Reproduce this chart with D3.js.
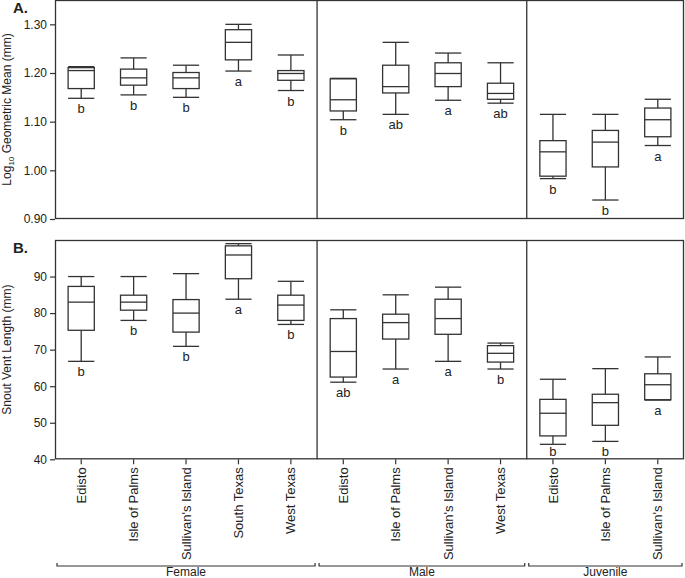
<!DOCTYPE html>
<html><head><meta charset="utf-8">
<script src="https://cdn.jsdelivr.net/npm/d3@7/dist/d3.min.js"></script>
<style>
body{margin:0;background:#fff;}
text{font-family:"Liberation Sans",Arial,sans-serif;fill:#222;}
</style></head>
<body><svg id="c" width="685" height="578"></svg>
<script>
const categories = ["Edisto","Isle of Palms","Sullivan's Island","South Texas","West Texas",
  "Edisto","Isle of Palms","Sullivan's Island","West Texas",
  "Edisto","Isle of Palms","Sullivan's Island"];
const groups = ["Female","Male","Juvenile"];
const groupSizes = [5,4,3];

// Panel A: Log10 geometric mean (mm)
const gmMin = [1.148,1.155,1.150,1.204,1.164, 1.104,1.115,1.144,1.138, 0.983,0.939,1.051];
const gmQ1  = [1.168,1.175,1.168,1.227,1.185, 1.122,1.159,1.172,1.146, 0.988,1.007,1.069];
const gmMed = [1.205,1.190,1.190,1.263,1.199, 1.145,1.172,1.199,1.158, 1.038,1.058,1.104];
const gmQ3  = [1.211,1.208,1.201,1.289,1.205, 1.188,1.216,1.221,1.179, 1.061,1.082,1.128];
const gmMax = [1.213,1.231,1.216,1.300,1.237, 1.189,1.263,1.241,1.221, 1.115,1.115,1.146];
const gmLetters = ["b","b","b","a","b", "b","ab","a","ab", "b","b","a"];
const gmTicks = [0.90,1.00,1.10,1.20,1.30];

// Panel B: Snout vent length (mm)
const svlMin = [66.8,78.0,70.9,83.8,76.9, 61.1,64.7,66.8,64.7, 44.1,44.9,56.2];
const svlQ1  = [75.3,80.8,74.8,89.4,78.0, 62.5,72.9,74.2,66.6, 46.4,49.3,56.3];
const svlMed = [83.0,83.0,80.0,95.9,82.2, 69.5,77.4,78.5,69.0, 52.6,55.5,60.4];
const svlQ3  = [87.3,84.9,83.7,98.4,84.9, 78.5,79.7,83.8,71.1, 56.4,57.8,63.4];
const svlMax = [90.0,90.0,90.8,99.0,88.7, 80.9,85.0,87.1,71.8, 61.9,64.8,68.0];
const svlLetters = ["b","b","b","a","b", "ab","a","a","b", "b","b","a"];
const svlTicks = [40,50,60,70,80,90];

const svg = d3.select("#c");
const left = 55, right = 684;
const idx = d3.range(categories.length);
const x = d3.scaleBand().domain(idx).range([left, right]).padding(0);
const bw = x.bandwidth()*0.5;
const lineCol = "#333";

function panel(top, bottom, domain, ticks, fmt, mn, q1, md, q3, mx, letters, title, ylabelFn){
  const y = d3.scaleLinear().domain(domain).range([bottom, top]);
  const g = svg.append("g");
  // frame
  g.append("rect").attr("x",left+0.5).attr("y",top+0.5).attr("width",right-left-1).attr("height",bottom-top-1)
    .attr("fill","none").attr("stroke",lineCol).attr("stroke-width",1.3);
  // separators
  let cum = 0;
  groupSizes.slice(0,-1).forEach(n=>{
    cum += n;
    const sx = x(cum);
    g.append("line").attr("x1",sx).attr("x2",sx).attr("y1",top).attr("y2",bottom)
      .attr("stroke",lineCol).attr("stroke-width",1.3);
  });
  // y axis
  const ax = g.append("g").attr("transform",`translate(${left},0)`)
    .call(d3.axisLeft(y).tickValues(ticks).tickSize(5).tickPadding(3).tickFormat(fmt));
  ax.select(".domain").remove();
  ax.selectAll("line").attr("stroke",lineCol).attr("stroke-width",1.2);
  ax.selectAll("text").attr("font-size",12).attr("fill","#222").style("font-family","Liberation Sans, Arial, sans-serif");
  // boxes
  const bg = g.append("g").attr("fill","none").attr("stroke",lineCol).attr("stroke-width",1.3);
  idx.forEach(i=>{
    const cx = x(i)+x.bandwidth()/2;
    const x0 = cx-bw/2, x1 = cx+bw/2;
    bg.append("line").attr("x1",cx).attr("x2",cx).attr("y1",y(mx[i])).attr("y2",y(q3[i]));
    bg.append("line").attr("x1",cx).attr("x2",cx).attr("y1",y(q1[i])).attr("y2",y(mn[i]));
    bg.append("line").attr("x1",x0).attr("x2",x1).attr("y1",y(mx[i])).attr("y2",y(mx[i]));
    bg.append("line").attr("x1",x0).attr("x2",x1).attr("y1",y(mn[i])).attr("y2",y(mn[i]));
    bg.append("rect").attr("x",x0).attr("y",y(q3[i])).attr("width",bw).attr("height",y(q1[i])-y(q3[i]));
    bg.append("line").attr("x1",x0).attr("x2",x1).attr("y1",y(md[i])).attr("y2",y(md[i]));
    g.append("text").attr("x",cx).attr("y",Math.min(y(mn[i])+15, bottom-3)).attr("text-anchor","middle")
      .attr("font-size",13).text(letters[i]);
  });
  // panel title
  g.append("text").attr("x",13).attr("y",top+13).attr("font-size",15).attr("font-weight","bold").text(title);
  // y label
  const lab = g.append("text").attr("transform",`translate(11,${(top+bottom)/2}) rotate(-90)`)
    .attr("text-anchor","middle").attr("font-size",12);
  ylabelFn(lab);
  return y;
}

const topA = 0, botA = 219;
const topB = 240, botB = 459.3;
panel(topA, botA, [0.9,1.35], gmTicks, d3.format(".2f"), gmMin, gmQ1, gmMed, gmQ3, gmMax, gmLetters, "A.",
  t=>{ t.append("tspan").text("Log");
       t.append("tspan").attr("font-size",8).attr("dy",3).text("10");
       t.append("tspan").attr("dy",-3).text(" Geometric Mean (mm)"); });
panel(topB, botB, [40,100], svlTicks, d3.format("d"), svlMin, svlQ1, svlMed, svlQ3, svlMax, svlLetters, "B.",
  t=>{ t.text("Snout Vent Length (mm)"); });

// x axis
const xa = svg.append("g").attr("transform",`translate(0,${botB})`)
  .call(d3.axisBottom(x).tickSize(5).tickPadding(3).tickFormat(i=>categories[i]));
xa.select(".domain").remove();
xa.selectAll("line").attr("stroke",lineCol).attr("stroke-width",1.2);
xa.selectAll("text").attr("font-size",13).attr("fill","#222")
  .style("font-family","Liberation Sans, Arial, sans-serif")
  .attr("transform","rotate(-90)").attr("text-anchor","end")
  .attr("x",-8).attr("y",0).attr("dy","0.35em");

// group brackets
const bY = 566;
let start = 0;
groups.forEach((gname,k)=>{
  const end = start + groupSizes[k];
  const x0 = x(start)+2, x1 = x(end-1)+x.bandwidth()-2;
  svg.append("path").attr("d",`M${x0},${bY-3}V${bY}H${x1}V${bY-3}`)
    .attr("fill","none").attr("stroke",lineCol).attr("stroke-width",1.2);
  svg.append("text").attr("x",(x0+x1)/2).attr("y",576).attr("text-anchor","middle")
    .attr("font-size",12).text(gname);
  start = end;
});
</script></body></html>
